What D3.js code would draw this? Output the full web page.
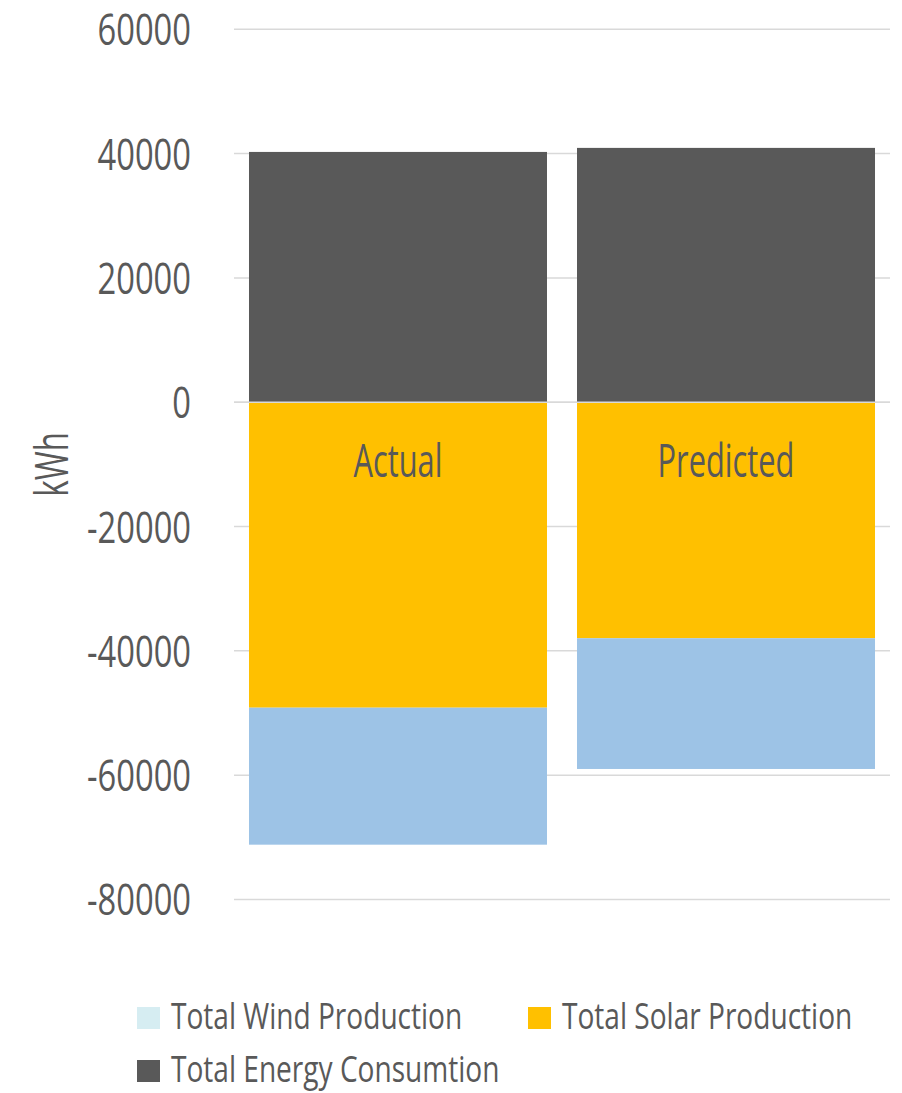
<!DOCTYPE html>
<html>
<head>
<meta charset="utf-8">
<script src="https://cdn.jsdelivr.net/npm/d3@7"></script>
<style>
  html, body { margin: 0; padding: 0; background: #fff; }
  svg text { font-family: "Open Sans", "Noto Sans", sans-serif; fill: #595959; }
</style>
</head>
<body>
<svg id="chart" width="902" height="1093"></svg>
<script>
const categories = ["Actual", "Predicted"];
const windProduction = [-22040, -21030];
const solarProduction = [-49140, -37970];
const energyConsumption = [40270, 40920];
const yTicks = [-80000, -60000, -40000, -20000, 0, 20000, 40000, 60000];
const seriesNames = ["Total Wind Production", "Total Solar Production", "Total Energy Consumtion"];

const barColors = { solar: "#FFC000", wind: "#9DC3E6", consumption: "#595959" };
const legendColors = ["#D6EDF2", "#FFC000", "#595959"];

const svg = d3.select("#chart");

const y = d3.scaleLinear().domain([-80000, 60000]).range([899.5, 29.3]);
const x = d3.scaleBand().domain(categories).range([234, 890]).paddingInner(0.0915).paddingOuter(0.0457);

const rows = categories.map((c, i) => ({
  category: c,
  solar: solarProduction[i],
  wind: windProduction[i],
  consumption: energyConsumption[i]
}));
const keys = ["solar", "wind", "consumption"];
const stacked = d3.stack().keys(keys).offset(d3.stackOffsetDiverging)(rows);

// horizontal condensing helper (the reference uses a condensed face)
function condense(sel, sx) {
  sel.each(function () {
    const t = d3.select(this);
    const ax = +t.attr("x") || 0, ay = +t.attr("y") || 0;
    t.attr("transform", `translate(${ax},${ay}) scale(${sx},1) translate(${-ax},${-ay})`);
  });
}

// gridlines
svg.append("g").selectAll("line").data(yTicks).join("line")
  .attr("x1", 234).attr("x2", 890)
  .attr("y1", d => y(d)).attr("y2", d => y(d))
  .attr("stroke", "#D9D9D9").attr("stroke-width", 1.5);

// bars
svg.append("g").selectAll("g").data(stacked).join("g")
  .attr("fill", d => barColors[d.key])
  .selectAll("rect").data(d => d).join("rect")
  .attr("x", d => x(d.data.category))
  .attr("width", x.bandwidth())
  .attr("y", d => y(Math.max(d[0], d[1])))
  .attr("height", d => Math.abs(y(d[0]) - y(d[1])));

// zero line over bars
svg.append("line")
  .attr("x1", 234).attr("x2", 890)
  .attr("y1", y(0)).attr("y2", y(0))
  .attr("stroke", "#D9D9D9").attr("stroke-width", 1.5);

// y axis tick labels
const yAxis = d3.axisLeft(y).tickValues(yTicks).tickSize(0).tickPadding(0).tickFormat(d => String(d));
const yg = svg.append("g").attr("transform", "translate(191,0)").call(yAxis);
yg.select(".domain").remove();
yg.attr("font-family", null).attr("font-size", null);
yg.selectAll("text").attr("font-size", 43).attr("dy", "0.36em").attr("x", 0).attr("y", 0)
  .attr("fill", "#595959");
yg.selectAll(".tick text").attr("transform", "scale(0.76,1)");

// y axis title
svg.append("text")
  .attr("transform", `translate(68,${(y(60000) + y(-80000)) / 2}) rotate(-90) scale(0.68,1)`)
  .attr("text-anchor", "middle")
  .attr("font-size", 46)
  .text("kWh");

// category labels
const cat = svg.append("g").selectAll("text").data(categories).join("text")
  .attr("x", d => x(d) + x.bandwidth() / 2)
  .attr("y", 477)
  .attr("text-anchor", "middle")
  .attr("font-size", 46)
  .text(d => d);
condense(cat, 0.67);

// legend
const legendItems = [
  { name: seriesNames[0], color: legendColors[0], x: 137, y: 1018 },
  { name: seriesNames[1], color: legendColors[1], x: 528, y: 1018 },
  { name: seriesNames[2], color: legendColors[2], x: 137, y: 1071 }
];
const lg = svg.append("g").selectAll("g").data(legendItems).join("g")
  .attr("transform", d => `translate(${d.x},${d.y})`);
lg.append("rect").attr("x", 0).attr("y", -11).attr("width", 23).attr("height", 22).attr("fill", d => d.color);
const lt = lg.append("text").attr("x", 34).attr("y", 11).attr("font-size", 36).text(d => d.name);
condense(lt, 0.78);
</script>
</body>
</html>
